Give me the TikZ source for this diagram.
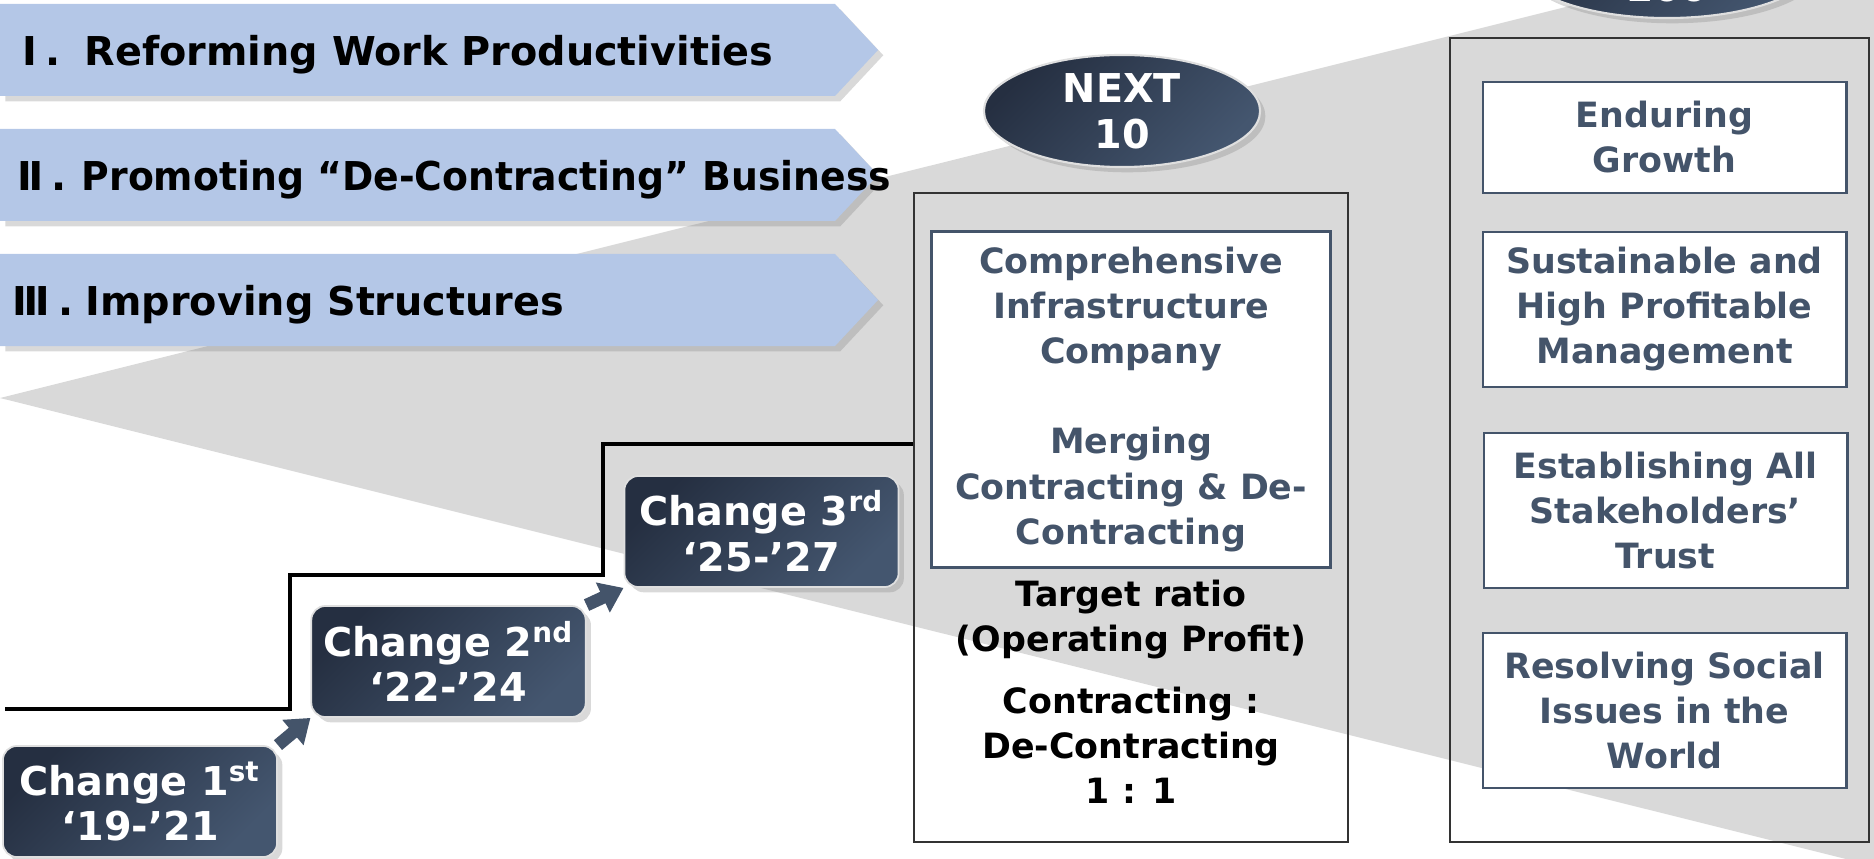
\documentclass[tikz,border=0pt]{standalone}
\usepackage{fontspec}
\usepackage{graphicx}
\setmainfont{DejaVu Sans}
\usetikzlibrary{shapes.geometric}
\usetikzlibrary{shadows}
\usetikzlibrary{arrows.meta}

\definecolor{bannerblue}{HTML}{B4C7E7}
\definecolor{wedgegray}{HTML}{D9D9D9}
\definecolor{slate}{HTML}{44546A}
\definecolor{navydark}{HTML}{252F41}
\definecolor{navylight}{HTML}{44566F}

\newcommand{\bigtext}{\fontsize{11.3}{13}\selectfont\bfseries}
\newcommand{\smalltext}{\fontsize{9.9}{12.8}\selectfont\bfseries}
\newcommand{\bannernum}[2]{\makebox[#2][l]{#1\hspace{0.2em}.}}

\tikzset{
  softshadow/.style={drop shadow={shadow xshift=1.5pt, shadow yshift=-1.5pt, opacity=0.3}},
  banner/.style={fill=bannerblue, softshadow},
  bannertext/.style={anchor=base west, inner sep=0pt, font=\bigtext},
  navyfill/.style={left color=navydark, right color=navylight, shading angle=45},
  changebox/.style={rectangle, rounded corners=4pt, navyfill, draw=white!75!gray, line width=0.5pt,
    text=white, font=\bigtext, align=center, minimum width=2.74cm, minimum height=1.11cm, softshadow},
  milestone/.style={ellipse, navyfill, draw=white!75!gray, line width=0.6pt, inner sep=0pt,
    text=white, font=\bigtext, align=center, minimum height=1.12cm, softshadow},
  panel/.style={rectangle, draw=black!80, line width=0.6pt},
  goalbox/.style={rectangle, draw=slate, line width=0.8pt, fill=white, text=slate,
    font=\smalltext, align=center, minimum width=3.63cm},
  stepline/.style={draw=black, line width=0.9pt},
  steparrow/.style={draw=slate, line width=3.6pt, -{Triangle[width=9pt,length=6.5pt]}}
}

\begin{document}
\begin{tikzpicture}[x=0.01cm, y=-0.01cm]
\useasboundingbox (0,0) rectangle (1874,858);

\fill[wedgegray] (0,398) -- (1874,-70) -- (1874,866) -- cycle;

\foreach \y in {4,129,254}
  \fill[banner] (0,\y) -- (835,\y) -- (878,\y+46) -- (835,\y+92) -- (0,\y+92) -- cycle;

\node[bannertext] (banI) at (22,66) {\bannernum{Ⅰ}{0.62cm}Reforming Work Productivities};
\node[bannertext] (banII) at (17,191) {\bannernum{Ⅱ}{0.64cm}\scalebox{0.95}[1]{Promoting “De-Contracting” Business}};
\node[bannertext] (banIII) at (12,316) {\bannernum{Ⅲ}{0.73cm}Improving Structures};

\node[panel, minimum width=4.34cm, minimum height=6.49cm] (nextpanel) at (1131,517.5) {};
\node[panel, minimum width=4.19cm, minimum height=8.04cm] (goalpanel) at (1659.5,440) {};

\node[goalbox, minimum width=3.98cm, minimum height=3.35cm] (merge) at (1131,399.5)
  {Comprehensive\\Infrastructure\\Company\\[12.8pt]Merging\\Contracting \& De-\\Contracting};
\node[font=\smalltext, align=center] (target) at (1131,620) {Target ratio\\(Operating Profit)};
\node[font=\smalltext, align=center] (ratio) at (1131,745) {Contracting :\\De-Contracting\\1 : 1};

\node[goalbox, minimum height=1.11cm] (growth) at (1664.5,137.5) {Enduring\\Growth};
\node[goalbox, minimum height=1.55cm] (profit) at (1664.5,309.5) {Sustainable and\\High Profitable\\Management};
\node[goalbox, minimum height=1.55cm] (trust) at (1665.5,510.5) {Establishing All\\Stakeholders’\\Trust};
\node[goalbox, minimum height=1.55cm] (social) at (1664.5,710.5) {Resolving Social\\Issues in the\\World};

\draw[stepline] (5,709) -| (290,575) -| (603,444) -- (nextpanel.west |- 0,444);

\node[changebox] (c1) at (140,801.5) {Change 1\textsuperscript{st}\\‘19-’21};
\node[changebox] (c2) at (448.5,661.5) {Change 2\textsuperscript{nd}\\‘22-’24};
\node[changebox] (c3) at (761.5,531.5) {Change 3\textsuperscript{rd}\\‘25-’27};

\draw[steparrow] (c1.north east) -- (c2.south west);
\draw[steparrow] (c2.north east) -- (c3.south west);

\node[milestone, minimum width=2.76cm] (next10) at (1122,111) {NEXT\\10};
\node[milestone, minimum width=3.0cm] (next100) at (1667,-38) {};
\node[font=\bigtext, text=white, anchor=base] (label100) at (next100.center |- 0,2) {100};

\end{tikzpicture}
\end{document}
